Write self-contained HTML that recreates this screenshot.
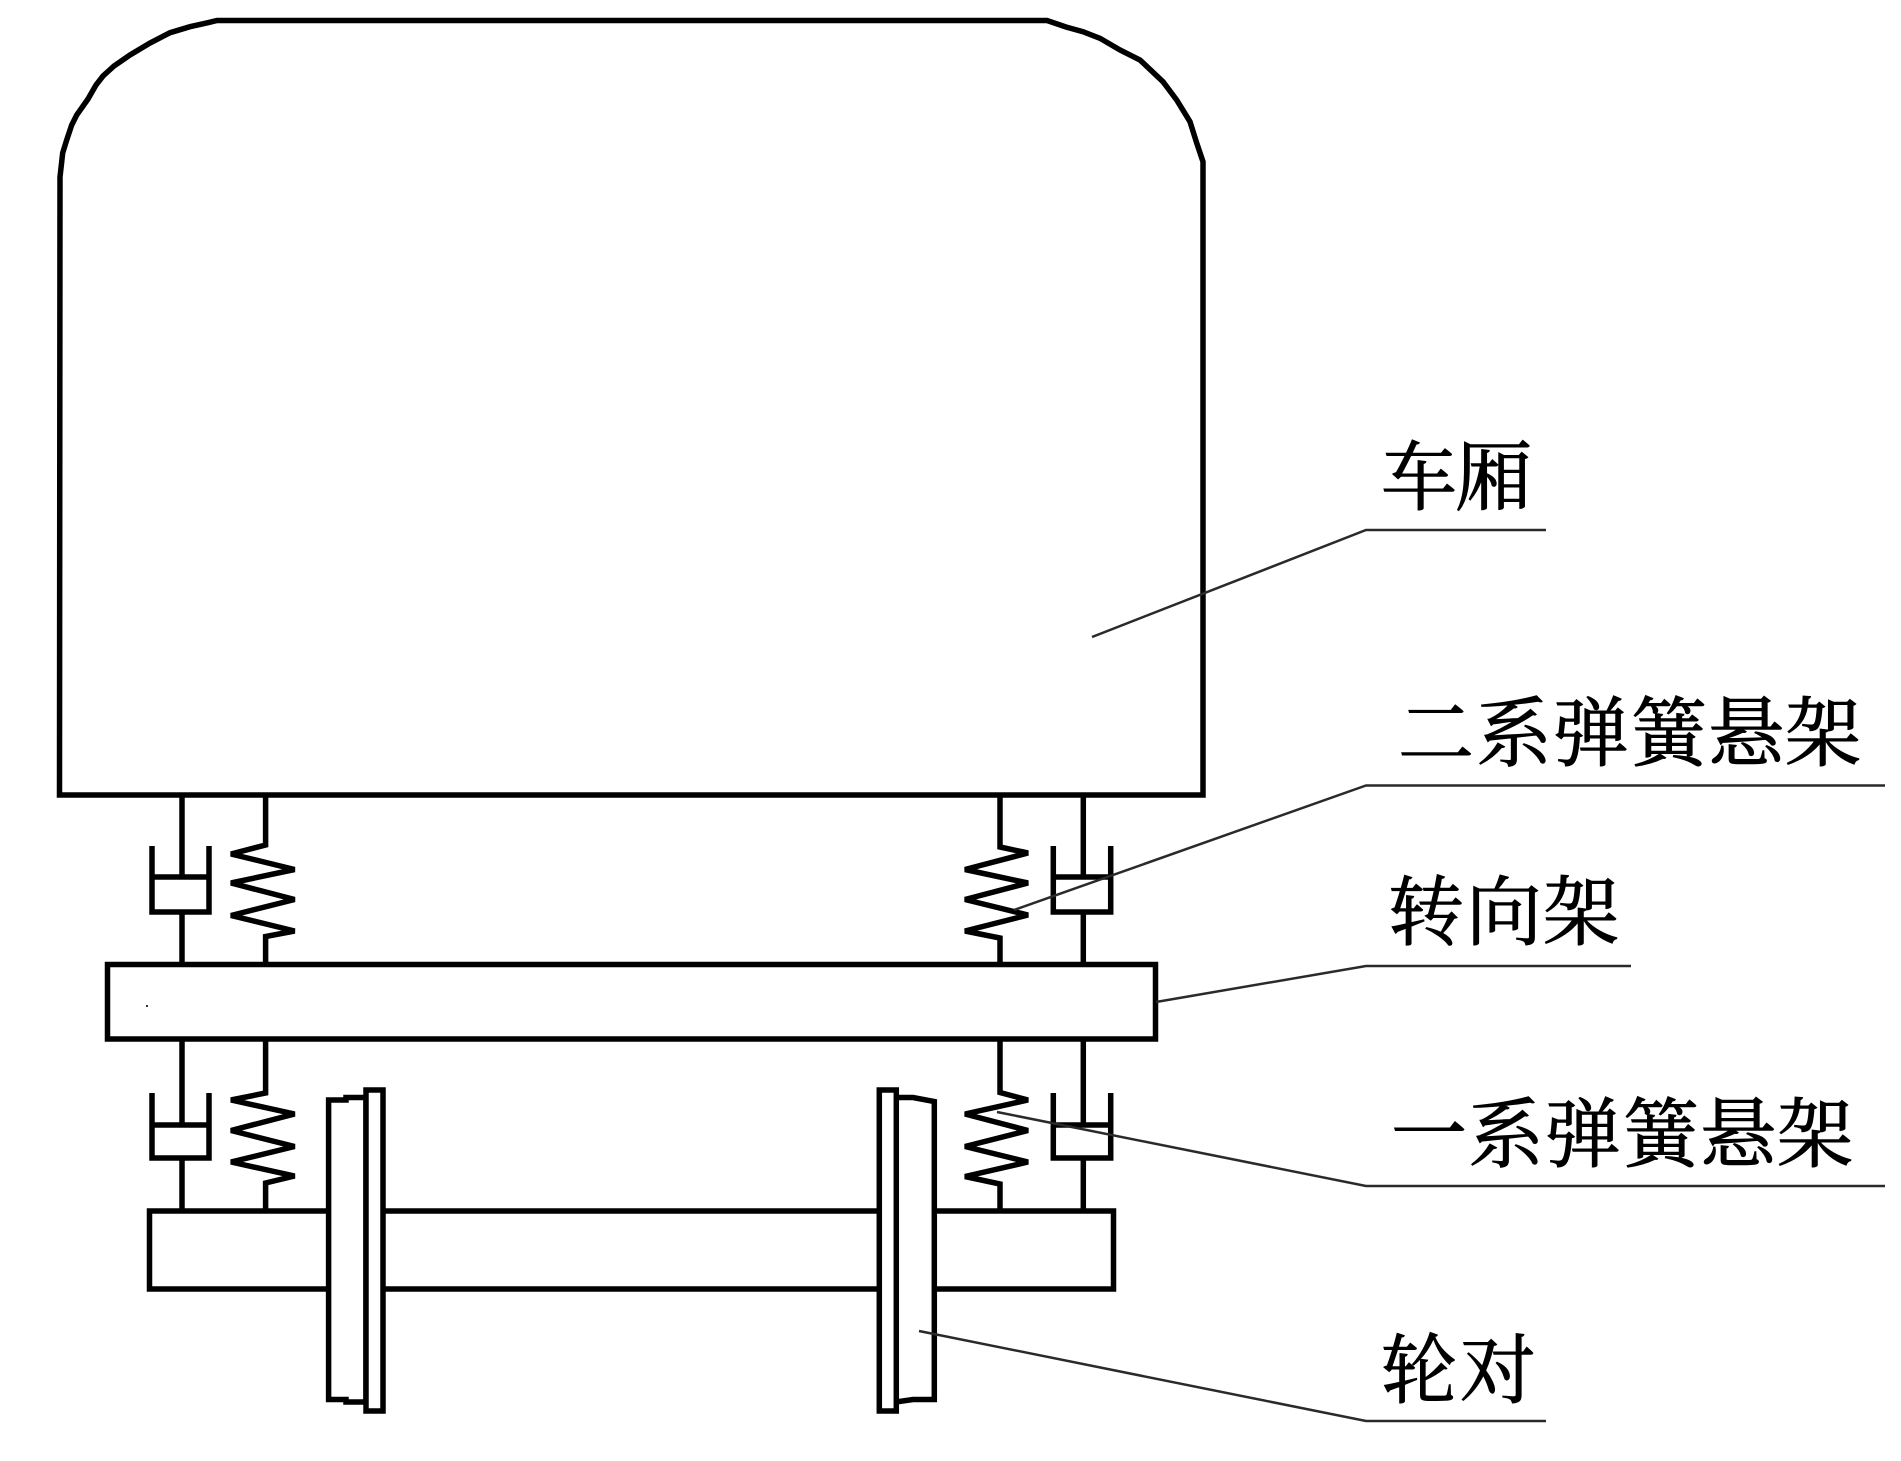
<!DOCTYPE html>
<html lang="zh">
<head>
<meta charset="utf-8">
<title>Diagram</title>
<style>
html,body{margin:0;padding:0;background:#fff;width:1901px;height:1461px;overflow:hidden}
svg{display:block}
text{font-family:"Liberation Serif","Noto Serif CJK SC",serif;font-size:76px;fill:#000;stroke:#000;stroke-width:1}
.m{fill:none;stroke:#000;stroke-width:5.5;stroke-linejoin:miter}
.l{fill:none;stroke:#2a2a2a;stroke-width:2.5}
</style>
</head>
<body>
<svg xmlns="http://www.w3.org/2000/svg" width="1901" height="1461" viewBox="0 0 1901 1461">
<rect width="1901" height="1461" fill="#fff"/>
<!-- car body -->
<path class="m" d="M59.5 795H1203V161.7L1196.7 143 1190 121.7 1176.7 100 1163 81.7 1140 60 1120 50 1100 38.3 1083 31.7 1066 27 1047 20.5H217L208 22.7 190 26.7 170 32.7 150 43 130 55 114 66 103 76 96 85 88 99 76.7 115 71.7 125 66.7 140 62.7 153 60 177Z"/>
<!-- bogie -->
<rect class="m" x="107.5" y="964.5" width="1048" height="74.5"/>
<rect x="146" y="1005" width="2" height="2" fill="#333"/>
<!-- axle -->
<rect class="m" x="149.5" y="1211" width="964" height="78"/>
<!-- upper left damper -->
<path class="m" d="M182 795V877M182 912V964.5M152 846V912H209V846M152 877H209"/>
<!-- upper left spring -->
<path class="m" d="M265.6 795V845L231 854 294.6 869.5 231 883 294.6 899.5 231 915.5 294.6 931 265.6 936.5V964.5"/>
<!-- lower left damper -->
<path class="m" d="M182 1039V1125M182 1158V1211M152 1093V1158H209V1093M152 1125H209"/>
<!-- lower left spring -->
<path class="m" d="M265.6 1039V1093L231 1100 294.6 1114 231 1130.5 294.6 1146.5 231 1162 294.6 1176 265.6 1183V1211"/>
<!-- upper right spring -->
<path class="m" d="M1000 795V847L1028 853 965 869.5 1028 883 965 899.5 1028 915 965 931 1000 938V964.5"/>
<!-- upper right damper -->
<path class="m" d="M1083.3 795V877M1083.3 912V964.5M1053.3 846V912H1110.7V846M1053.3 877H1110.7"/>
<!-- lower right spring -->
<path class="m" d="M1000 1039V1092.5L1028 1100 965 1114 1028 1130.5 965 1146.5 1028 1162 965 1176.5 1000 1184V1211"/>
<!-- lower right damper -->
<path class="m" d="M1083.3 1039V1125M1083.3 1158V1211M1053.3 1093V1158H1110.7V1093M1053.3 1125H1110.7"/>
<!-- left wheel -->
<path d="M328.6 1100H346V1097.5H366V1402H346V1399.5H328.6Z" fill="#fff" stroke="#000" stroke-width="5.5"/>
<rect x="366" y="1090" width="17" height="321" fill="#fff" stroke="#000" stroke-width="5.5"/>
<!-- right wheel -->
<path d="M896 1097.5H913L934.3 1101.5V1399.5H913L896 1402Z" fill="#fff" stroke="#000" stroke-width="5.5"/>
<rect x="879.3" y="1090" width="17" height="321" fill="#fff" stroke="#000" stroke-width="5.5"/>
<!-- leaders -->
<path class="l" d="M1092 637L1366 530H1546"/>
<path class="l" d="M1014 910L1366 785.5H1885"/>
<path class="l" d="M1156 1002L1366 966H1631"/>
<path class="l" d="M997 1112L1366 1186H1885"/>
<path class="l" d="M919 1331L1366 1421H1546"/>
<!-- labels -->
<text x="1381 1456" y="504">车厢</text>
<text x="1398 1476 1553 1631 1708 1785" y="760">二系弹簧悬架</text>
<text x="1388 1466 1543" y="939">转向架</text>
<text x="1391 1468 1545 1623 1700 1777" y="1161">一系弹簧悬架</text>
<text x="1381 1460" y="1397">轮对</text>
</svg>
</body>
</html>
